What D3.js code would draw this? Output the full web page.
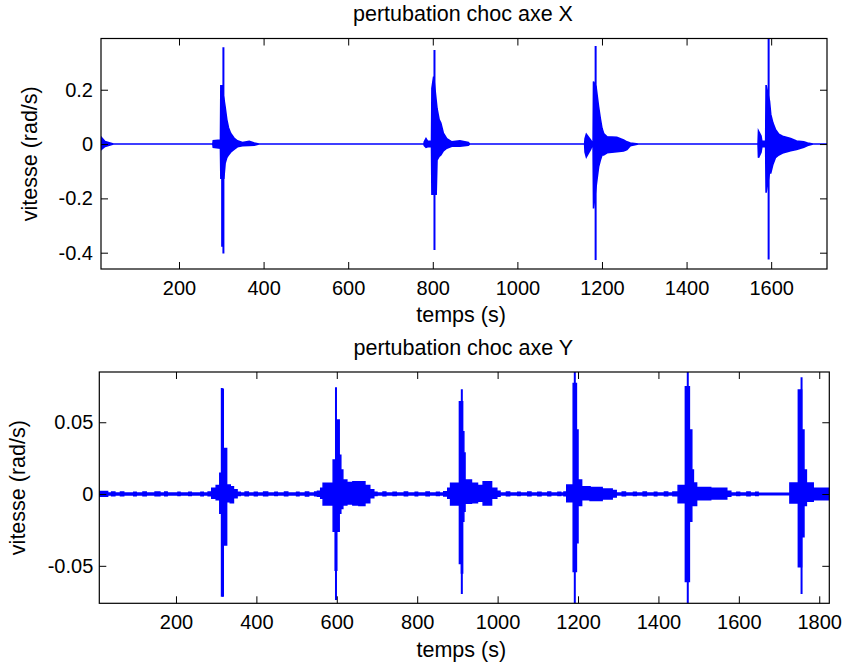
<!DOCTYPE html>
<html><head><meta charset="utf-8">
<script src="https://cdn.jsdelivr.net/npm/d3@7"></script>
<style>html,body{margin:0;padding:0;background:#fff;}svg{display:block;}text{font-family:"Liberation Sans",Arial,sans-serif;fill:#000;}</style>
</head><body>
<script>
// ---------- top panel: pertubation choc axe X ----------
const topTitle = "pertubation choc axe X";
const topXTicks = [200, 400, 600, 800, 1000, 1200, 1400, 1600];
const topYTicks = [-0.4, -0.2, 0, 0.2];
const topYTickLabels = ["-0.4", "-0.2", "0", "0.2"];
// envelope of the signal (time, upper, lower)
const topT  = [15, 25, 45, 280, 281, 298, 299, 306, 309, 313, 317, 322, 330, 338, 350, 366, 378, 389, 779, 780, 784, 788, 797, 798, 802, 808, 810, 815, 819, 825, 833, 845, 864, 884, 887, 1159, 1160, 1163, 1173, 1176, 1179, 1180, 1186, 1192, 1196, 1200, 1204, 1212, 1235, 1251, 1259, 1267, 1286, 1569, 1570, 1576, 1578, 1587, 1588, 1596, 1599, 1604, 1610, 1618, 1627, 1646, 1660, 1677, 1686, 1699, 1732];
const topHi = [0.027, 0.009, 0, 0, 0.012, 0.015, 0.217, 0.168, 0.137, 0.09, 0.06, 0.04, 0.022, 0.012, 0.006, 0.01, 0.004, 0, 0, 0.008, 0.02, 0.01, 0.01, 0.205, 0.248, 0.16, 0.131, 0.09, 0.077, 0.04, 0.02, 0.008, 0.012, 0.006, 0, 0, 0.02, 0.036, 0.015, 0.008, 0.008, 0.23, 0.211, 0.137, 0.095, 0.058, 0.039, 0.027, 0.025, 0.015, 0.008, 0.004, 0, 0, 0.048, 0.03, 0.01, 0.01, 0.217, 0.158, 0.109, 0.078, 0.054, 0.036, 0.029, 0.02, 0.011, 0.008, 0.004, 0, 0];
const topLo = [-0.022, -0.009, 0, 0, -0.012, -0.015, -0.126, -0.126, -0.071, -0.05, -0.04, -0.03, -0.02, -0.01, -0.006, -0.005, -0.004, 0, 0, -0.006, -0.012, -0.01, -0.01, -0.185, -0.185, -0.185, -0.059, -0.045, -0.04, -0.025, -0.015, -0.008, -0.008, -0.004, 0, 0, -0.03, -0.047, -0.02, -0.008, -0.008, -0.237, -0.157, -0.084, -0.06, -0.04, -0.04, -0.032, -0.028, -0.025, -0.02, -0.006, 0, 0, -0.05, -0.03, -0.01, -0.01, -0.179, -0.106, -0.106, -0.075, -0.05, -0.04, -0.033, -0.025, -0.02, -0.012, -0.005, 0, 0];
const topSpikeT  = [302, 305, 804, 1185, 1594];
const topSpikeHi = [0.217, 0.356, 0.346, 0.361, 0.40];
const topSpikeLo = [-0.378, -0.403, -0.39, -0.427, -0.425];

// ---------- bottom panel: pertubation choc axe Y ----------
const botTitle = "pertubation choc axe Y";
const botXTicks = [200, 400, 600, 800, 1000, 1200, 1400, 1600, 1800];
const botYTicks = [-0.05, 0, 0.05];
const botYTickLabels = ["-0.05", "0", "0.05"];
const botT  = [9, 30, 40, 48, 62, 70, 95, 101, 118, 126, 148, 160, 172, 178, 205, 210, 232, 238, 262, 268, 280, 289, 300, 309, 319, 326, 335, 343, 352, 360, 372, 380, 395, 402, 418, 428, 446, 452, 470, 478, 500, 506, 522, 530, 545, 552, 560, 566, 591, 596, 600, 606, 610, 615, 625, 640, 655, 670, 682, 692, 700, 715, 722, 740, 748, 768, 776, 795, 801, 822, 830, 848, 855, 866, 876, 883, 905, 910, 913, 916, 919, 935, 950, 964, 985, 998, 1006, 1022, 1030, 1050, 1056, 1075, 1083, 1100, 1108, 1125, 1132, 1150, 1157, 1165, 1172, 1188, 1196, 1200, 1209, 1230, 1260, 1285, 1295, 1310, 1318, 1338, 1345, 1362, 1370, 1390, 1396, 1415, 1423, 1436, 1449, 1467, 1477, 1483, 1487, 1495, 1530, 1570, 1580, 1595, 1602, 1620, 1628, 1642, 1648, 1727, 1748, 1756, 1762, 1768, 1785, 1825];
const botHi = [0.0018, 0.0008, 0.0015, 0.0007, 0.0014, 0.0007, 0.0013, 0.0007, 0.0014, 0.0007, 0.0015, 0.0007, 0.0014, 0.0007, 0.0012, 0.0007, 0.0013, 0.0007, 0.0013, 0.0007, 0.0014, 0.0040, 0.0060, 0.0144, 0.0318, 0.0063, 0.0050, 0.0030, 0.0012, 0.0007, 0.0014, 0.0007, 0.0013, 0.0007, 0.0015, 0.0007, 0.0013, 0.0007, 0.0014, 0.0007, 0.0013, 0.0007, 0.0015, 0.0007, 0.0014, 0.0020, 0.0040, 0.0076, 0.0237, 0.0237, 0.0515, 0.0270, 0.0167, 0.0097, 0.0080, 0.0085, 0.0086, 0.0060, 0.0030, 0.0012, 0.0007, 0.0014, 0.0007, 0.0013, 0.0007, 0.0015, 0.0007, 0.0013, 0.0007, 0.0014, 0.0007, 0.0013, 0.0007, 0.0016, 0.0040, 0.0075, 0.0643, 0.0643, 0.0434, 0.0285, 0.0097, 0.0075, 0.0060, 0.0085, 0.0040, 0.0020, 0.0007, 0.0014, 0.0007, 0.0013, 0.0007, 0.0015, 0.0007, 0.0013, 0.0007, 0.0014, 0.0007, 0.0013, 0.0007, 0.0015, 0.0063, 0.0770, 0.0446, 0.0097, 0.0050, 0.0045, 0.0035, 0.0025, 0.0007, 0.0014, 0.0007, 0.0013, 0.0007, 0.0015, 0.0007, 0.0013, 0.0007, 0.0014, 0.0007, 0.0015, 0.0060, 0.0747, 0.0446, 0.0167, 0.0077, 0.0045, 0.0040, 0.0020, 0.0007, 0.0013, 0.0007, 0.0014, 0.0007, 0.0012, 0.0005, 0.0077, 0.0724, 0.0446, 0.0167, 0.0077, 0.0040, 0.0040];
const botLo = [-0.0016, -0.0007, -0.0012, -0.0006, -0.0012, -0.0006, -0.0012, -0.0006, -0.0012, -0.0006, -0.0012, -0.0006, -0.0012, -0.0006, -0.0010, -0.0006, -0.0011, -0.0006, -0.0012, -0.0006, -0.0012, -0.0030, -0.0040, -0.0134, -0.0355, -0.0054, -0.0060, -0.0025, -0.0010, -0.0006, -0.0012, -0.0006, -0.0012, -0.0006, -0.0012, -0.0006, -0.0011, -0.0006, -0.0012, -0.0006, -0.0012, -0.0006, -0.0013, -0.0006, -0.0012, -0.0016, -0.0030, -0.0077, -0.0260, -0.0530, -0.0260, -0.0134, -0.0100, -0.0077, -0.0070, -0.0077, -0.0080, -0.0060, -0.0025, -0.0010, -0.0006, -0.0012, -0.0006, -0.0011, -0.0006, -0.0012, -0.0006, -0.0012, -0.0006, -0.0012, -0.0006, -0.0011, -0.0006, -0.0014, -0.0030, -0.0077, -0.0483, -0.0550, -0.0190, -0.0120, -0.0065, -0.0060, -0.0050, -0.0077, -0.0030, -0.0016, -0.0006, -0.0012, -0.0006, -0.0011, -0.0006, -0.0012, -0.0006, -0.0012, -0.0006, -0.0012, -0.0006, -0.0011, -0.0006, -0.0012, -0.0054, -0.0540, -0.0340, -0.0080, -0.0040, -0.0045, -0.0035, -0.0020, -0.0006, -0.0012, -0.0006, -0.0011, -0.0006, -0.0012, -0.0006, -0.0012, -0.0006, -0.0012, -0.0006, -0.0012, -0.0060, -0.0610, -0.0190, -0.0080, -0.0080, -0.0040, -0.0035, -0.0016, -0.0006, -0.0011, -0.0006, -0.0012, -0.0006, -0.0010, -0.0005, -0.0062, -0.0506, -0.0297, -0.0080, -0.0050, -0.0040, -0.0040];
const botSpikeT  = [314, 317, 598, 911, 1192, 1473, 1756];
const botSpikeHi = [0.0738, 0.0735, 0.0743, 0.0729, 0.09, 0.09, 0.0813];
const botSpikeLo = [-0.0715, -0.0715, -0.0738, -0.0696, -0.08, -0.08, -0.0696];

const xLabel = "temps (s)";
const yLabel = "vitesse (rad/s)";

const W = 842, H = 668;
const BLUE = "#0000ff";
const svg = d3.select("body").append("svg").attr("width", W).attr("height", H);
svg.append("rect").attr("width", W).attr("height", H).attr("fill", "#fff");

function panel(o) {
  const x = d3.scaleLinear().domain(o.xDomain).range([o.left, o.right]);
  const y = d3.scaleLinear().domain(o.yDomain).range([o.bottom, o.top]);
  const g = svg.append("g");
  const clipId = "clip" + o.id;
  svg.append("clipPath").attr("id", clipId).append("rect")
    .attr("x", o.left).attr("y", o.top).attr("width", o.right - o.left).attr("height", o.bottom - o.top);

  const pts = o.t.map((t, i) => ({ t, hi: o.hi[i], lo: o.lo[i] }));
  const plot = g.append("g").attr("clip-path", `url(#${clipId})`);
  plot.append("path").datum(pts)
    .attr("d", d3.area().curve(o.curve).x(d => x(d.t)).y0(d => y(d.lo)).y1(d => y(d.hi)))
    .attr("fill", BLUE).attr("stroke", BLUE).attr("stroke-width", o.lw).attr("stroke-linejoin", "miter");
  plot.selectAll("line.spike").data(o.st.map((t, i) => ({ t, hi: o.sh[i], lo: o.sl[i] })))
    .join("line").attr("class", "spike")
    .attr("x1", d => x(d.t)).attr("x2", d => x(d.t))
    .attr("y1", d => y(d.hi)).attr("y2", d => y(d.lo))
    .attr("stroke", BLUE).attr("stroke-width", 2);

  const fs = "20px";
  const ax = (sel) => { sel.select(".domain").remove(); sel.selectAll("line").attr("stroke", "#000"); sel.selectAll("text").style("font-size", fs).attr("fill", "#000"); };
  g.append("g").attr("transform", `translate(0,${o.bottom})`)
    .call(d3.axisBottom(x).tickValues(o.xTicks).tickFormat(d3.format("d")).tickSizeInner(-7).tickSizeOuter(0).tickPadding(12)).call(ax);
  g.append("g").attr("transform", `translate(0,${o.top})`)
    .call(d3.axisTop(x).tickValues(o.xTicks).tickFormat("").tickSizeInner(-7).tickSizeOuter(0)).call(ax);
  g.append("g").attr("transform", `translate(${o.left},0)`)
    .call(d3.axisLeft(y).tickValues(o.yTicks).tickFormat((d, i) => o.yTickLabels[i]).tickSizeInner(-7).tickSizeOuter(0).tickPadding(o.yPad)).call(ax);
  g.append("g").attr("transform", `translate(${o.right},0)`)
    .call(d3.axisRight(y).tickValues(o.yTicks).tickFormat("").tickSizeInner(-7).tickSizeOuter(0)).call(ax);
  g.selectAll(".tick text").attr("font-family", '"Liberation Sans",Arial,sans-serif');

  g.append("rect").attr("x", o.left).attr("y", o.top).attr("width", o.right - o.left).attr("height", o.bottom - o.top)
    .attr("fill", "none").attr("stroke", "#000").attr("stroke-width", 1.2);

  const cx = (o.left + o.right) / 2;
  g.append("text").attr("x", cx - 1).attr("y", o.titleY).attr("text-anchor", "middle").style("font-size", "21.5px").text(o.title);
  g.append("text").attr("x", cx - 3).attr("y", o.xLabelY).attr("text-anchor", "middle").style("font-size", "21.5px").text(xLabel);
  g.append("text").attr("transform", `translate(${o.yLabelX},${(o.top + o.bottom) / 2}) rotate(-90)`)
    .attr("text-anchor", "middle").style("font-size", "21.5px").text(yLabel);
}

panel({ id: "A", left: 101, right: 827, top: 38.5, bottom: 269, xDomain: [15.6, 1732], yDomain: [-0.460, 0.3886],
  t: topT, hi: topHi, lo: topLo, st: topSpikeT, sh: topSpikeHi, sl: topSpikeLo, curve: d3.curveLinear, lw: 1.6,
  xTicks: topXTicks, yTicks: topYTicks, yTickLabels: topYTickLabels, yPad: 8,
  title: topTitle, titleY: 21, xLabelY: 322, yLabelX: 37 });

panel({ id: "B", left: 99.3, right: 829.3, top: 372, bottom: 603.3, xDomain: [9.3, 1825], yDomain: [-0.0761, 0.085],
  t: botT, hi: botHi, lo: botLo, st: botSpikeT, sh: botSpikeHi, sl: botSpikeLo, curve: d3.curveStepAfter, lw: 1.5,
  xTicks: botXTicks, yTicks: botYTicks, yTickLabels: botYTickLabels, yPad: 6,
  title: botTitle, titleY: 355, xLabelY: 657, yLabelX: 25 });
</script>
</body></html>
